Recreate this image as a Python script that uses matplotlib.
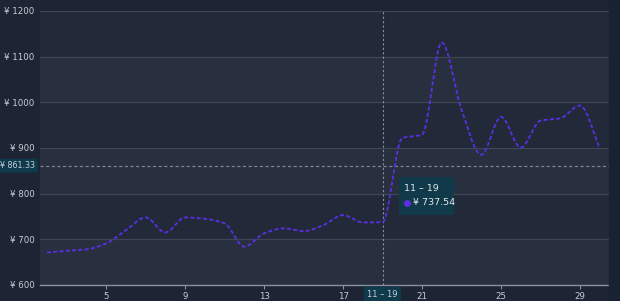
import numpy as np
import matplotlib
matplotlib.use("Agg")
import matplotlib.pyplot as plt

# --------- DATOS ---------
dias = list(range(2, 31))
precios = [671, 675, 678, 691, 720, 748, 715, 748, 745, 735,
           684, 713, 724, 718, 731, 753, 737, 737.54, 922, 929,
           1131, 984, 885, 968, 901, 960, 965, 993, 900]
promedio = 861.33
dia_sel = 19
etiqueta_sel = "11 – 19"
ticks_x = [5, 9, 13, 17, 21, 25, 29]
ticks_y = [600, 700, 800, 900, 1000, 1100, 1200]

# --------- COLORES ---------
fondo = "#1d2535"
banda_clara = "#283040"
banda_oscura = "#222a39"
color_linea = "#5a2fe6"
color_texto = "#c9cdd5"
color_caja = "#0f3a4b"


def suavizar(x, y, pasos=24):
    """Curva cubica monotona (sin sobrepasos) para dibujar la serie suavizada."""
    x = np.asarray(x, float)
    y = np.asarray(y, float)
    h = np.diff(x)
    d = np.diff(y) / h
    m = np.zeros_like(y)
    m[0], m[-1] = d[0], d[-1]
    for i in range(1, len(y) - 1):
        if d[i - 1] * d[i] > 0:
            w1 = 2 * h[i] + h[i - 1]
            w2 = h[i] + 2 * h[i - 1]
            m[i] = (w1 + w2) / (w1 / d[i - 1] + w2 / d[i])
    xs, ys = [], []
    t = np.linspace(0, 1, pasos, endpoint=False)
    for i in range(len(x) - 1):
        h00 = 2 * t ** 3 - 3 * t ** 2 + 1
        h10 = t ** 3 - 2 * t ** 2 + t
        h01 = -2 * t ** 3 + 3 * t ** 2
        h11 = t ** 3 - t ** 2
        xs.extend(x[i] + t * h[i])
        ys.extend(h00 * y[i] + h10 * h[i] * m[i] + h01 * y[i + 1] + h11 * h[i] * m[i + 1])
    xs.append(x[-1])
    ys.append(y[-1])
    return np.array(xs), np.array(ys)


fig = plt.figure(figsize=(6.2, 3.01), dpi=100, facecolor=fondo)
ax = fig.add_axes([40 / 620, 16 / 301, 569 / 620, 274 / 301])
ax.set_facecolor(fondo)

# franja oscura a la derecha
fig.patches.append(plt.Rectangle((609 / 620, 0), 11 / 620, 1, transform=fig.transFigure,
                                 color="#1a2130", zorder=0))

ax.set_xlim(1.65, 30.47)
ax.set_ylim(600, 1200)

# bandas alternas
for i, (a, b) in enumerate(zip(ticks_y[:-1], ticks_y[1:])):
    ax.axhspan(a, b, color=banda_clara if i % 2 == 0 else banda_oscura, zorder=0, lw=0)
for v in ticks_y[1:]:
    ax.axhline(v, color="#3e4556", lw=0.9, zorder=1)

# linea de promedio
ax.axhline(promedio, color="#7c8392", lw=0.9, ls=(0, (2.5, 2)), zorder=2)
ax.text(-0.008, promedio, f"¥ {promedio:.2f}", transform=ax.get_yaxis_transform(),
        ha="right", va="center", fontsize=5.8, color=color_texto, zorder=5,
        bbox=dict(boxstyle="round,pad=0.3,rounding_size=0.2", fc=color_caja, ec="none"),
        clip_on=False)

# serie suavizada
xs, ys = suavizar(dias, precios)
ax.plot(xs, ys, color=color_linea, lw=1.3, ls=(0, (2.2, 1.3)), zorder=4)

# cursor vertical
ax.axvline(dia_sel, color="#8a90a0", lw=0.8, ls=(0, (2, 2)), zorder=3)
ax.text(dia_sel, -0.018, etiqueta_sel, transform=ax.get_xaxis_transform(),
        ha="center", va="top", fontsize=6.0, color=color_texto, zorder=5,
        bbox=dict(boxstyle="round,pad=0.4,rounding_size=0.2", fc=color_caja, ec="none"),
        clip_on=False)

# tooltip
valor_sel = precios[dias.index(dia_sel)]
ax.add_patch(plt.Rectangle((19.84, 753), 2.78, 84, fc=color_caja, ec="none",
                           alpha=0.95, zorder=6))
ax.text(20.1, 811, etiqueta_sel, fontsize=6.8, color="#e4e8ee",
        va="center", zorder=7)
ax.scatter([20.26], [780], s=16, color=color_linea, zorder=7)
ax.text(20.55, 780, f"¥ {valor_sel:.2f}", fontsize=6.8, color="#e4e8ee",
        va="center", zorder=7)

# ejes
ax.set_xticks(ticks_x)
ax.set_yticks(ticks_y)
ax.set_yticklabels([f"¥ {v}" for v in ticks_y])
ax.tick_params(axis="x", colors="#8a90a0", labelcolor=color_texto, labelsize=6.2,
               length=3, width=0.8, pad=2)
ax.tick_params(axis="y", length=0, labelcolor=color_texto, labelsize=6.2, pad=4)
for lado in ["top", "right", "left"]:
    ax.spines[lado].set_visible(False)
ax.spines["bottom"].set_color("#8a90a0")
ax.spines["bottom"].set_linewidth(1.0)

fig.savefig("out.png", dpi=100, facecolor=fondo)
